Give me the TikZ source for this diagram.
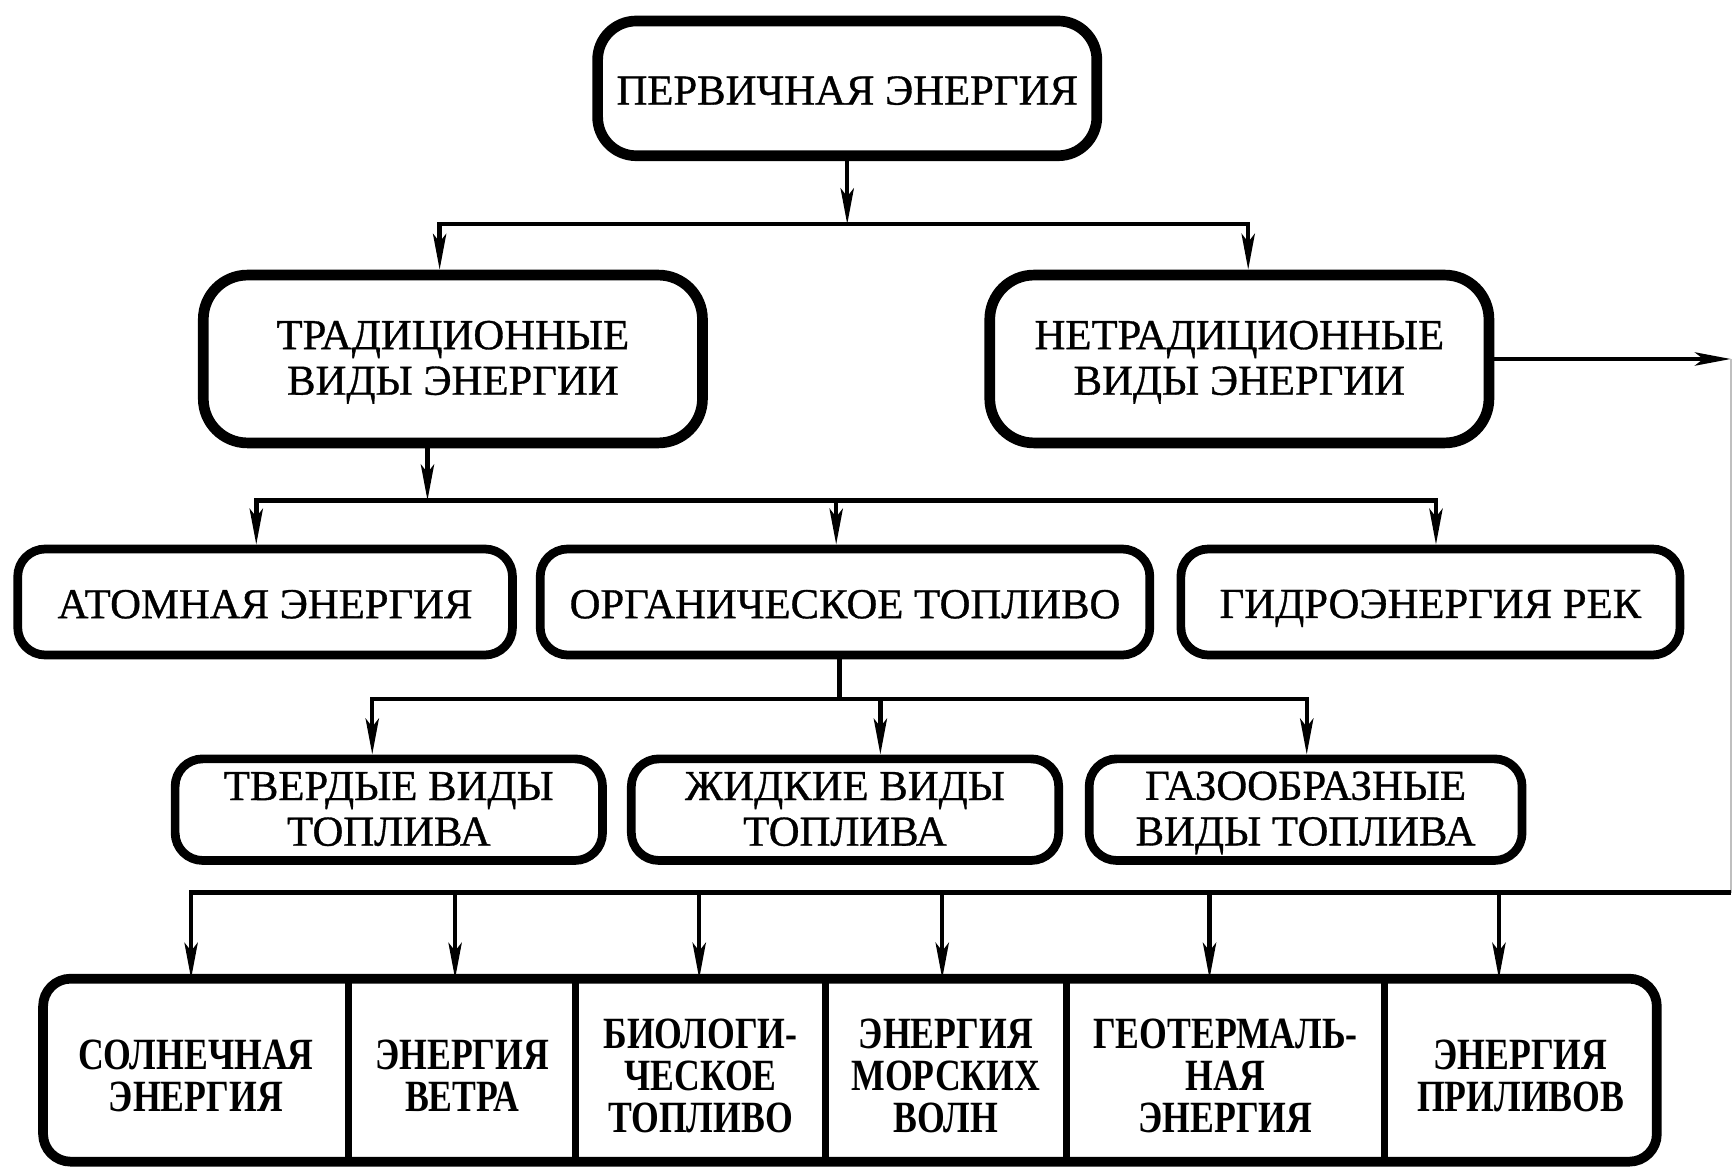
\documentclass[tikz,border=0pt]{standalone}
\usepackage{fontspec}
\setmainfont{Liberation Serif}
\newfontfamily\heavyfont{Liberation Serif}[FakeBold=0.8]
\newfontfamily\condfont{Liberation Serif}[FakeStretch=0.8]
\newcommand\boxstrut{\rule[-4.4pt]{0pt}{25.5pt}}
\newcommand\boxtop{\rule{0pt}{18pt}}
\newcommand\boxbot{\rule[-4.4pt]{0pt}{0pt}}
\newcommand\celltop{\rule{0pt}{25.5pt}}
\newcommand\cellbot{\rule[-4.5pt]{0pt}{0pt}}
\usetikzlibrary{arrows.meta,positioning}

\begin{document}
\begin{tikzpicture}[x=0.02cm,y=-0.02cm,
    box/.style={draw,line width=5.5pt,rounded corners=0.8cm,inner sep=0pt,align=center,
        font=\heavyfont\fontsize{22}{23.5}\selectfont},
    smallbox/.style={box,line width=4.5pt,rounded corners=0.5cm},
    cell/.style={inner sep=0pt,minimum height=3.3cm,align=center,
        font=\condfont\bfseries\fontsize{23}{21.5}\selectfont},
    link/.style={line width=2.3pt},
    arr/.style={link,-{Stealth[length=0.65cm,width=0.24cm,inset=0.15cm]}}]
    \useasboundingbox (0,0) rectangle (1568,1061);

    \node[box,rounded corners=0.7cm,minimum width=9.04cm,minimum height=2.44cm] (prim) at (767,80) {ПЕРВИЧНАЯ ЭНЕРГИЯ\boxstrut};

    \node[box,minimum width=9.04cm,minimum height=3.04cm] (trad) at (410,325) {\boxtop ТРАДИЦИОННЫЕ\\ВИДЫ ЭНЕРГИИ\boxbot};
    \node[box,minimum width=9.04cm,minimum height=3.04cm] (nontrad) at (1122,325) {\boxtop НЕТРАДИЦИОННЫЕ\\ВИДЫ ЭНЕРГИИ\boxbot};

    \node[smallbox,minimum width=8.96cm,minimum height=1.92cm] (atom) at (240,545) {АТОМНАЯ ЭНЕРГИЯ\boxstrut};
    \node[smallbox,minimum width=11.04cm,minimum height=1.92cm] (organic) at (765,545) {ОРГАНИЧЕСКОЕ ТОПЛИВО\boxstrut};
    \node[smallbox,minimum width=9.04cm,minimum height=1.92cm] (hydro) at (1295,545) {ГИДРОЭНЕРГИЯ РЕК\boxstrut};

    \node[smallbox,minimum width=7.74cm,minimum height=1.84cm] (solid) at (352,733) {\boxtop ТВЕРДЫЕ ВИДЫ\\ТОПЛИВА\boxbot};
    \node[smallbox,minimum width=7.74cm,minimum height=1.84cm] (liquid) at (765,733) {\boxtop ЖИДКИЕ ВИДЫ\\ТОПЛИВА\boxbot};
    \node[smallbox,minimum width=7.84cm,minimum height=1.84cm] (gas) at (1182,733) {\boxtop ГАЗООБРАЗНЫЕ\\ВИДЫ ТОПЛИВА\boxbot};

    \node[cell,minimum width=5.52cm,anchor=north west] (solar) at (39,886) {\celltop СОЛНЕЧНАЯ\\ЭНЕРГИЯ\cellbot};
    \node[cell,minimum width=4.10cm,right=0pt of solar] (wind) {\celltop ЭНЕРГИЯ\\ВЕТРА\cellbot};
    \node[cell,minimum width=4.50cm,right=0pt of wind] (bio) {\celltop БИОЛОГИ-\\ЧЕСКОЕ\\ТОПЛИВО\cellbot};
    \node[cell,minimum width=4.36cm,right=0pt of bio] (wave) {\celltop ЭНЕРГИЯ\\МОРСКИХ\\ВОЛН\cellbot};
    \node[cell,minimum width=5.74cm,right=0pt of wave] (geo) {\celltop ГЕОТЕРМАЛЬ-\\НАЯ\\ЭНЕРГИЯ\cellbot};
    \node[cell,minimum width=4.92cm,right=0pt of geo] (tide) {\celltop ЭНЕРГИЯ\\ПРИЛИВОВ\cellbot};
    \draw[line width=5pt,rounded corners=0.5cm] (solar.north west) rectangle (tide.south east);
    \foreach \c in {solar,wind,bio,wave,geo}
        \draw[line width=3.5pt] (\c.north east) -- (\c.south east);

    \coordinate (busA) at (767,203);
    \coordinate (busAl) at (398,203);
    \coordinate (busAr) at (1130,203);
    \draw[arr] (prim) -- (busA);
    \draw[arr] (busA) -- (busAl) -- (busAl |- trad.north);
    \draw[arr] (busA) -- (busAr) -- (busAr |- nontrad.north);

    \coordinate (busB) at (387,453);
    \coordinate (busBl) at (232,453);
    \coordinate (busBm) at (757,453);
    \coordinate (busBr) at (1300,453);
    \draw[arr] (busB |- trad.south) -- (busB);
    \draw[arr] (busB) -- (busBl) -- (busBl |- atom.north);
    \draw[arr] (busB) -- (busBr) -- (busBr |- hydro.north);
    \draw[arr] (busBm) -- (busBm |- organic.north);

    \coordinate (busC) at (760,633);
    \coordinate (busCl) at (337,633);
    \coordinate (busCm) at (797,633);
    \coordinate (busCr) at (1183,633);
    \draw[link] (busC |- organic.south) -- (busC);
    \draw[arr] (busC) -- (busCl) -- (busCl |- solid.north);
    \draw[arr] (busC) -- (busCr) -- (busCr |- gas.north);
    \draw[arr] (busCm) -- (busCm |- liquid.north);

    \coordinate (rightTop) at (1567,325);
    \coordinate (rightBot) at (1567,808);
    \coordinate (busD1) at (173,808);
    \coordinate (busD2) at (412,808);
    \coordinate (busD3) at (633,808);
    \coordinate (busD4) at (853,808);
    \coordinate (busD5) at (1095,808);
    \coordinate (busD6) at (1357,808);
    \draw[arr] (nontrad.east) -- (rightTop);
    \draw[line width=0.6pt,black!25] (rightTop) -- (rightBot);
    \draw[arr] (rightBot) -- (busD1) -- (busD1 |- solar.north);
    \draw[arr] (busD2) -- (busD2 |- wind.north);
    \draw[arr] (busD3) -- (busD3 |- bio.north);
    \draw[arr] (busD4) -- (busD4 |- wave.north);
    \draw[arr] (busD5) -- (busD5 |- geo.north);
    \draw[arr] (busD6) -- (busD6 |- tide.north);
\end{tikzpicture}
\end{document}
